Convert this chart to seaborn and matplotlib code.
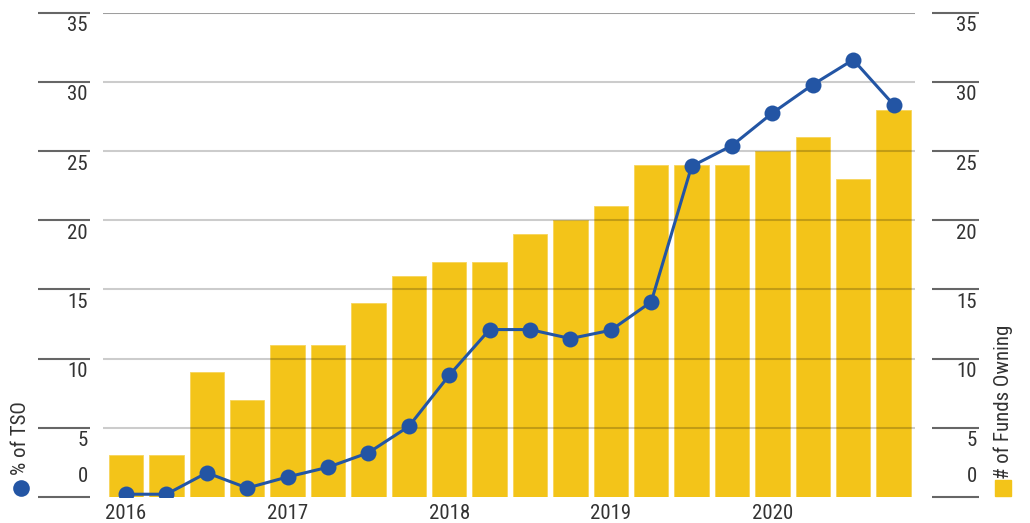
import numpy as np
import pandas as pd
import matplotlib
matplotlib.use("Agg")
import matplotlib.pyplot as plt
from matplotlib import font_manager
from matplotlib.transforms import blended_transform_factory
import seaborn as sns

# Quarterly data, 2016 Q1 through 2020 Q4
quarters = [f"{y} Q{q}" for y in range(2016, 2021) for q in range(1, 5)]
funds_owning = [3, 3, 9, 7, 11, 11, 14, 16, 17, 17, 19, 20, 21, 24, 24, 24, 25, 26, 23, 28]
pct_tso = [0.2, 0.2, 1.75, 0.65, 1.45, 2.15, 3.2, 5.1, 8.8, 12.1, 12.1, 11.45, 12.05, 14.1,
           23.9, 25.4, 27.75, 29.8, 31.6, 28.35]
year_labels = ["2016", "2017", "2018", "2019", "2020"]
y_ticks = [0, 5, 10, 15, 20, 25, 30, 35]

YELLOW = "#F3C419"
BLUE = "#2355A4"
TEXT = "#333333"
TICK = "#666666"

sns.set_theme(style="white")
available = {f.name for f in font_manager.fontManager.ttflist}
family = [f for f in ["Liberation Sans Narrow", "Roboto Condensed", "DejaVu Sans Condensed",
                      "Liberation Sans", "DejaVu Sans"] if f in available]
plt.rcParams["font.family"] = family

W, H = 1030, 523
fig = plt.figure(figsize=(W / 100, H / 100), dpi=100)
px_left, px_right, px_top, px_bottom = 103, 915, 12.7, 497
ax = fig.add_axes([px_left / W, (H - px_bottom) / H,
                   (px_right - px_left) / W, (px_bottom - px_top) / H])
units_per_px = 35 / (px_bottom - px_top)

df = pd.DataFrame({"quarter": quarters, "funds": funds_owning, "tso": pct_tso})

# Bars: number of funds owning (right scale)
sns.barplot(data=df, x="quarter", y="funds", color=YELLOW, saturation=1,
            width=0.85, ax=ax, zorder=1, edgecolor="#F7D55A", linewidth=0.6)

# Horizontal gridlines drawn over the bars
for t in y_ticks[1:]:
    ax.axhline(t, color="black", alpha=0.38 if t == 35 else 0.2, lw=1.5, zorder=2)

# Line: percent of total shares outstanding (left scale)
sns.lineplot(x=np.arange(len(quarters)), y=df["tso"], color=BLUE, lw=2.2,
             marker="o", markersize=11.5, markeredgewidth=0, ax=ax, zorder=3)

ax.set_xlim(-0.57, 19.53)
ax.set_ylim(0, 35)
ax.set_xlabel("")
ax.set_ylabel("")
for s in ax.spines.values():
    s.set_visible(False)
ax.set_yticks([])
ax.set_xticks([0, 4, 8, 12, 16])
ax.set_xticklabels(year_labels, fontsize=15, color=TEXT)
ax.tick_params(axis="x", length=0, pad=5)

# Right-hand scale shares the 0-35 range
ax_r = ax.twinx()
ax_r.set_ylim(0, 35)
ax_r.set_yticks([])
for s in ax_r.spines.values():
    s.set_visible(False)

span = px_right - px_left
def fx(px):
    return (px - px_left) / span

# Detached tick marks; labels hang below each mark, except zero which sits above
for axis, x0, x1 in [(ax, 38, 90), (ax_r, 932, 979)]:
    tr = blended_transform_factory(axis.transAxes, axis.transData)
    for t in y_ticks:
        axis.plot([fx(x0), fx(x1)], [t, t], transform=tr, color=TICK, lw=1.5,
                  clip_on=False, solid_capstyle="butt")
        if t == 0:
            ypos, va = t + 11 * units_per_px, "bottom"
        else:
            ypos, va = t - 3.5 * units_per_px, "top"
        axis.text(fx(x1 - 2), ypos, str(t), transform=tr, ha="right", va=va,
                  fontsize=15, color=TEXT, clip_on=False)

# Legend keys along the outer edges
fig.text(21 / W, 1 - 438 / H, "% of TSO", rotation=90, ha="center", va="center",
         fontsize=15, color=TEXT)
fig.add_artist(plt.Line2D([21 / W], [1 - 488 / H], marker="o", markersize=12,
                          color=BLUE, markeredgewidth=0, linestyle="none"))
fig.text(1003 / W, 1 - 402 / H, "# of Funds Owning", rotation=90, ha="center", va="center",
         fontsize=15, color=TEXT)
fig.add_artist(plt.Rectangle(((1003 - 8) / W, 1 - (488 + 8) / H), 16 / W, 16 / H,
                             color=YELLOW, transform=fig.transFigure))

fig.savefig("out.png", dpi=100)
